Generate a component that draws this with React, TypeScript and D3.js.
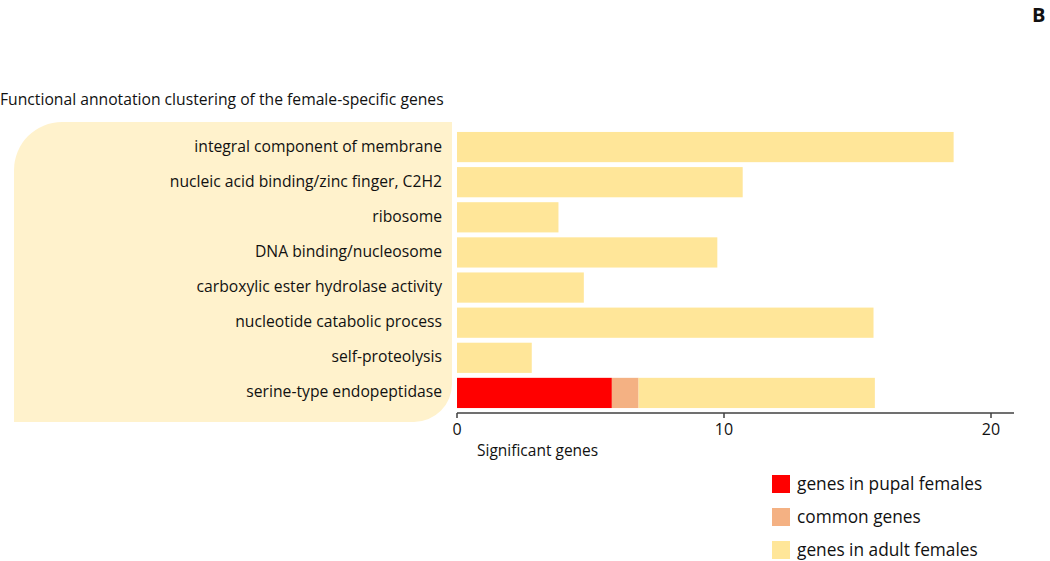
import React from "react";
import * as d3 from "d3";

const categories = [
  "integral component of membrane",
  "nucleic acid binding/zinc finger, C2H2",
  "ribosome",
  "DNA binding/nucleosome",
  "carboxylic ester hydrolase activity",
  "nucleotide catabolic process",
  "self-proteolysis",
  "serine-type endopeptidase",
];
const pupal = [0, 0, 0, 0, 0, 0, 0, 5.8];
const common = [0, 0, 0, 0, 0, 0, 0, 1.0];
const adult = [18.6, 10.7, 3.8, 9.75, 4.75, 15.6, 2.8, 8.85];
const seriesNames = ["genes in pupal females", "common genes", "genes in adult females"];
const seriesColors = ["#ff0000", "#f4b183", "#ffe699"];
const xTicks = [0, 10, 20];

const W = 1050;
const H = 561;
const font = "'Open Sans', 'Noto Sans', sans-serif";

export default function App() {
  const x = d3.scaleLinear().domain([0, 20]).range([457, 991]);
  const y = d3.scaleBand().domain(categories).range([129.5, 410.5]).paddingInner(0.14).paddingOuter(0.07);

  const rows = categories.map((c, i) => {
    const vals = [pupal[i], common[i], adult[i]];
    let acc = 0;
    return vals.map((v, k) => {
      const seg = { c, k, x0: acc, x1: acc + v };
      acc += v;
      return seg;
    });
  });

  // rounded panel behind the labels
  const px0 = 14, py0 = 122, px1 = 452, py1 = 422, r1 = 48, r2 = 38;
  const panel = `M${px0},${py0 + r1} A${r1},${r1} 0 0 1 ${px0 + r1},${py0} L${px1},${py0} L${px1},${py1 - r2} A${r2},${r2} 0 0 1 ${px1 - r2},${py1} L${px0},${py1} Z`;

  return (
    <svg width={W} height={H} style={{ position: "absolute", left: 0, top: 0, background: "#fff" }} fontFamily={font}>
      <text x={1032} y={22} fontSize={20} fontWeight="bold" fill="#111">B</text>
      <text x={0} y={105} fontSize={15.7} fill="#111">Functional annotation clustering of the female-specific genes</text>
      <path d={panel} fill="#fff2cc" />
      {categories.map((c) => (
        <text key={c} x={442} y={y(c)! + y.bandwidth() / 2 - 1} dy="0.35em" textAnchor="end" fontSize={15.7} fill="#111">{c}</text>
      ))}
      {rows.flat().filter((s) => s.x1 > s.x0).map((s) => (
        <rect key={s.c + s.k} x={x(s.x0)} y={y(s.c)} width={x(s.x1) - x(s.x0)} height={y.bandwidth()} fill={seriesColors[s.k]} />
      ))}
      <g>
        <line x1={x(0)} x2={1014} y1={413} y2={413} stroke="#404040" strokeWidth={1.5} />
        {xTicks.map((t) => (
          <g key={t} transform={`translate(${x(t)},413)`}>
            <line y2={5} stroke="#404040" strokeWidth={1.5} />
            <text y={22} textAnchor="middle" fontSize={16} fill="#111">{t}</text>
          </g>
        ))}
        <text x={477} y={456} fontSize={15.5} fill="#111">Significant genes</text>
      </g>
      {seriesNames.map((n, i) => (
        <g key={n} transform={`translate(772,${475 + i * 33})`}>
          <rect width={18} height={18} fill={seriesColors[i]} />
          <text x={25} y={9} dy="0.35em" fontSize={17.3} fill="#111">{n}</text>
        </g>
      ))}
    </svg>
  );
}
